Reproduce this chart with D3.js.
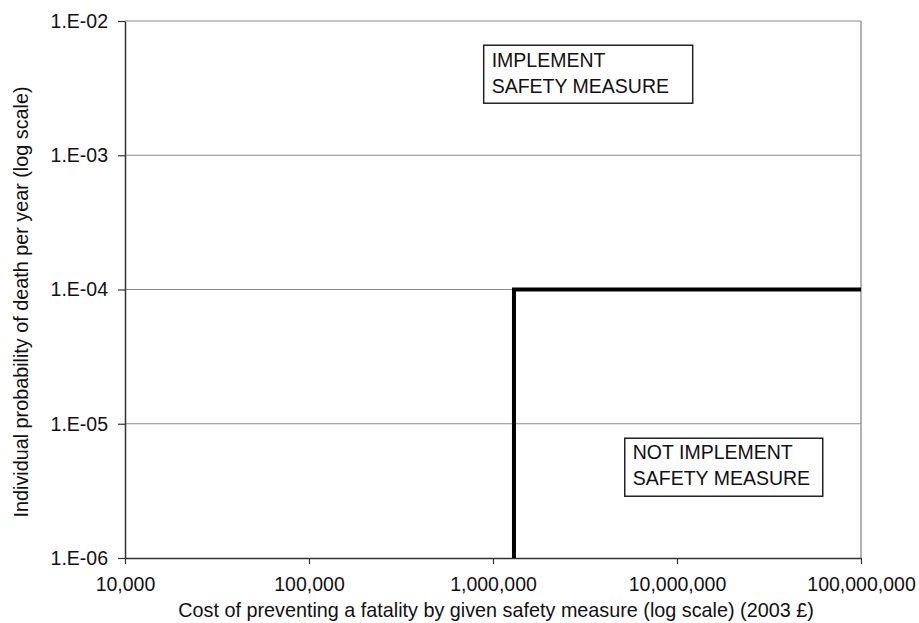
<!DOCTYPE html>
<html>
<head>
<meta charset="utf-8">
<script src="https://cdn.jsdelivr.net/npm/d3@7/dist/d3.min.js"></script>
<style>
  html, body { margin: 0; padding: 0; background: #fff; }
  svg { display: block; font-family: "Liberation Sans", Arial, sans-serif; }
</style>
</head>
<body>
<svg id="chart" width="919" height="623"></svg>
<script>
// Decision boundary: cost of preventing a fatality vs. individual risk
const xTicks = [1e4, 1e5, 1e6, 1e7, 1e8];
const xTickLabels = ["10,000", "100,000", "1,000,000", "10,000,000", "100,000,000"];
const yTicks = [1e-6, 1e-5, 1e-4, 1e-3, 1e-2];
const yTickLabels = ["1.E-06", "1.E-05", "1.E-04", "1.E-03", "1.E-02"];

// Boundary line: vertical at the value of preventing a fatality, then
// horizontal at the risk threshold out to the right edge
const boundaryCost = [1.3e6, 1.3e6, 1e8];
const boundaryRisk = [1e-6, 1e-4, 1e-4];

// Region labels, anchored (top-left corner) in data coordinates
const regionText = [["IMPLEMENT", "SAFETY MEASURE"], ["NOT IMPLEMENT", "SAFETY MEASURE"]];
const regionCost = [8.9e5, 5.2e6];
const regionRisk = [6.6e-3, 7.8e-6];

const xTitle = "Cost of preventing a fatality by given safety measure (log scale) (2003 £)";
const yTitle = "Individual probability of death per year (log scale)";

// layout
const boxStyle = [
  { width: 209, height: 58, padX: 8, line1: 22, line2: 48 },
  { width: 198, height: 58, padX: 8, line1: 21, line2: 47 }
];
const tickFont = 19.5, titleFont = 19.8, boxFont = 19.5;

const svg = d3.select("#chart");
const m = { left: 125, right: 919 - 861, top: 21, bottom: 623 - 558 };
const W = 919 - m.left - m.right;
const H = 623 - m.top - m.bottom;

const x = d3.scaleLog().domain([1e4, 1e8]).range([0, W]);
const y = d3.scaleLog().domain([1e-6, 1e-2]).range([H, 0]);

const g = svg.append("g").attr("transform", `translate(${m.left},${m.top})`);

// horizontal gridlines
g.append("g")
  .selectAll("line")
  .data(yTicks.slice(1))
  .join("line")
  .attr("x1", 0).attr("x2", W)
  .attr("y1", d => y(d)).attr("y2", d => y(d))
  .attr("stroke", "#8c8c8c").attr("stroke-width", 1.2);

// right frame edge
g.append("line")
  .attr("x1", W).attr("x2", W).attr("y1", 0).attr("y2", H)
  .attr("stroke", "#9a9a9a").attr("stroke-width", 1.5);

// axes
const xAxis = d3.axisBottom(x).tickValues(xTicks)
  .tickFormat((d, i) => xTickLabels[i]).tickSize(6).tickSizeOuter(0).tickPadding(13);
const yAxis = d3.axisLeft(y).tickValues(yTicks)
  .tickFormat((d, i) => yTickLabels[i]).tickSize(7).tickSizeOuter(0).tickPadding(10);

const gx = g.append("g").attr("transform", `translate(0,${H})`).call(xAxis);
const gy = g.append("g").call(yAxis);
[gx, gy].forEach(a => {
  a.select(".domain").attr("stroke", "#333").attr("stroke-width", 1.5);
  a.selectAll(".tick line").attr("stroke", "#333").attr("stroke-width", 1.2);
  a.selectAll(".tick text").attr("fill", "#111").attr("font-size", tickFont)
    .attr("font-family", "Liberation Sans, Arial, sans-serif");
});

// boundary line
const line = d3.line().x(d => x(d[0])).y(d => y(d[1]));
g.append("path")
  .datum(boundaryCost.map((c, i) => [c, boundaryRisk[i]]))
  .attr("d", line)
  .attr("fill", "none").attr("stroke", "#000").attr("stroke-width", 4)
  .attr("stroke-linejoin", "miter").attr("stroke-linecap", "butt");

// region text boxes
regionText.forEach((lines, k) => {
  const st = boxStyle[k];
  const box = g.append("g")
    .attr("transform", `translate(${x(regionCost[k])},${y(regionRisk[k])})`);
  box.append("rect")
    .attr("width", st.width).attr("height", st.height)
    .attr("fill", "#fff").attr("stroke", "#222").attr("stroke-width", 1.5);
  const t = box.append("text").attr("font-size", boxFont).attr("fill", "#111");
  lines.forEach((s, i) => t.append("tspan")
    .attr("x", st.padX).attr("y", i === 0 ? st.line1 : st.line2).text(s));
});

// axis titles
svg.append("text")
  .attr("x", 496).attr("y", 617).attr("text-anchor", "middle")
  .attr("font-size", titleFont).attr("fill", "#111").text(xTitle);
svg.append("text")
  .attr("transform", "translate(28,302) rotate(-90)").attr("text-anchor", "middle")
  .attr("font-size", titleFont).attr("fill", "#111").text(yTitle);
</script>
</body>
</html>
